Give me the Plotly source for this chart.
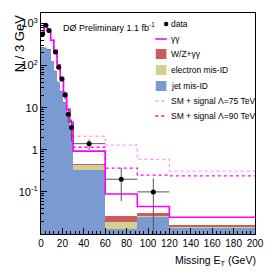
import plotly.graph_objects as go
import numpy as np

# ---- data ----
edges = [0, 3, 6, 9, 12, 15, 18, 21, 24, 27, 30, 60, 90, 120, 200]
jet_misid = [270, 275, 240, 130, 78, 43, 24, 13, 6.5, 3.3, 0.34, 0.013, 0.026, 0.014]
electron_misid = [3, 3, 2.5, 1.5, 1, 0.6, 0.4, 0.25, 0.12, 0.07, 0.10, 0.0065, 0.002, 0.001]
wz_gg = [1, 1, 0.8, 0.6, 0.4, 0.3, 0.2, 0.1, 0.05, 0.03, 0.02, 0.0075, 0.003, 0.001]
gg = [286, 621, 437, 268, 151, 61, 27.4, 8.65, 2.33, 1.1, 0.47, 0.062, 0.014, 0.009]
signal_75 = [0.3, 0.3, 0.3, 0.3, 0.3, 0.3, 0.35, 0.4, 0.45, 0.5, 1.17, 1.21, 0.545, 0.285]
signal_90 = [0.1, 0.1, 0.1, 0.1, 0.1, 0.1, 0.12, 0.13, 0.15, 0.2, 0.22, 0.28, 0.205, 0.215]

data_x = [1.5, 4.5, 7.5, 13.5, 16.5, 19.5, 22.5, 25.5, 28.5, 45, 75, 105]
data_y = [562, 915, 680, 210, 92, 48, 20, 7, 3.4, 1.4, 0.2, 0.1]
data_xerr = [1.5, 1.5, 1.5, 1.5, 1.5, 1.5, 1.5, 1.5, 1.5, 15, 15, 15]
data_err_up = [24, 30, 26, 14.5, 9.6, 6.9, 4.5, 2.6, 1.8, 0.35, 0.17, 0.11]
data_err_dn = [24, 30, 26, 14.5, 9.6, 6.9, 4.5, 2.6, 1.8, 0.4, 0.14, 0.0999]

x_ticks = [0, 20, 40, 60, 80, 100, 120, 140, 160, 180, 200]

# ---- derived ----
e = np.array(edges, float)
centers = (e[:-1] + e[1:]) / 2
widths = e[1:] - e[:-1]
sm_total = np.array(jet_misid) + np.array(electron_misid) + np.array(wz_gg) + np.array(gg)
tot75 = sm_total + np.array(signal_75)
tot90 = sm_total + np.array(signal_90)

BLUE = "#7b9ad2"
YELLOW = "#d4cf8c"
RED = "#cd5a5e"
MAG = "#ff00ff"
PINK = "#ff99ff"
FONT = "Liberation Sans, Arial, sans-serif"

fig = go.Figure()
for vals, col, name in [(jet_misid, BLUE, "jet mis-ID"), (electron_misid, YELLOW, "electron mis-ID"),
                        (wz_gg, RED, "W/Z+γγ"), (gg, "white", "γγ")]:
    fig.add_trace(go.Bar(x=centers, y=vals, width=widths, marker=dict(color=col, line=dict(width=0)),
                         name=name, showlegend=False))

def step(vals):
    return list(vals) + [vals[-1]]

fig.add_trace(go.Scatter(x=edges, y=step(tot75), mode="lines", line=dict(color=PINK, width=1.3, dash="dot", shape="hv"),
                         showlegend=False))
fig.add_trace(go.Scatter(x=edges, y=step(tot90), mode="lines", line=dict(color=MAG, width=1.3, dash="dot", shape="hv"),
                         showlegend=False))
fig.add_trace(go.Scatter(x=edges, y=step(sm_total), mode="lines", line=dict(color=MAG, width=1.6, shape="hv"),
                         showlegend=False))
fig.add_trace(go.Scatter(x=data_x, y=data_y, mode="markers", marker=dict(color="black", size=5),
                         error_y=dict(type="data", symmetric=False, array=data_err_up, arrayminus=data_err_dn,
                                      color="#555555", thickness=1, width=0),
                         error_x=dict(type="data", array=data_xerr, color="#555555", thickness=1, width=0),
                         showlegend=False))

fig.update_layout(
    width=276, height=276, autosize=False,
    margin=dict(l=41, r=14, t=13, b=42),
    barmode="stack", bargap=0,
    plot_bgcolor="white", paper_bgcolor="white",
    font=dict(family=FONT, size=10, color="black"),
)
fig.update_xaxes(range=[0, 200], tickvals=x_ticks, ticks="inside", ticklen=6, tickcolor="black",
                 showline=True, linecolor="black", linewidth=1, mirror=True, showgrid=False, zeroline=False,
                 tickfont=dict(size=10), minor=dict(ticks="inside", ticklen=3, dtick=4, tickcolor="black"))
fig.update_yaxes(type="log", range=[-2.0, 3.25], tickvals=[0.1, 1, 10, 100, 1000],
                 ticktext=["10<sup>-1</sup>", "1", "10", "10<sup>2</sup>", "10<sup>3</sup>"],
                 ticks="inside", ticklen=6, tickcolor="black",
                 showline=True, linecolor="black", linewidth=1, mirror=True, showgrid=False, zeroline=False,
                 tickfont=dict(size=11), minor=dict(ticks="inside", ticklen=3, dtick="D1", tickcolor="black"))

# titles
fig.add_annotation(text="N / 3 GeV", textangle=-90, xref="paper", yref="paper", x=(19 - 41) / 221, y=1.0,
                   xanchor="center", yanchor="top", showarrow=False, font=dict(size=13))
fig.add_annotation(text="Missing E<sub>T</sub> (GeV)", xref="paper", yref="paper", x=1.015, y=-0.122,
                   xanchor="right", yanchor="middle", showarrow=False, font=dict(size=10.5))
fig.add_annotation(text="DØ Preliminary 1.1 fb<sup>-1</sup>", xref="paper", yref="paper", x=(62 - 41) / 221,
                   y=(234 - 27) / 221, xanchor="left", yanchor="middle", showarrow=False, font=dict(size=9))

# manual legend (pixel positions converted to paper coords)
def px(xp):
    return (xp - 41) / 221

def py(yp):
    return (234 - yp) / 221

legend_items = [
    ("data", "dot", None, 24),
    ("γγ", "line", dict(color=MAG, width=1.6), 39),
    ("W/Z+γγ", "rect", RED, 54),
    ("electron mis-ID", "rect", YELLOW, 70),
    ("jet mis-ID", "rect", BLUE, 86),
    ("SM + signal Λ=75 TeV", "line", dict(color=PINK, width=1.3, dash="dot"), 101),
    ("SM + signal Λ=90 TeV", "line", dict(color=MAG, width=1.3, dash="dot"), 116),
]
for label, kind, style, yp in legend_items:
    if kind == "dot":
        fig.add_shape(type="circle", xref="paper", yref="paper", x0=px(168), x1=px(172.5), y0=py(yp + 2.25),
                      y1=py(yp - 2.25), fillcolor="black", line=dict(width=0))
    elif kind == "line":
        fig.add_shape(type="line", xref="paper", yref="paper", x0=px(159), x1=px(171), y0=py(yp), y1=py(yp),
                      line=style)
    else:
        fig.add_shape(type="rect", xref="paper", yref="paper", x0=px(159.5), x1=px(170.5), y0=py(yp + 5),
                      y1=py(yp - 5), fillcolor=style, line=dict(width=0))
    fig.add_annotation(text=label, xref="paper", yref="paper", x=px(173.5), y=py(yp), xanchor="left",
                       yanchor="middle", showarrow=False, font=dict(size=8.5))

fig.write_html("out.html", config={"displayModeBar": False},
               post_script="document.body.style.margin='0px';document.body.style.padding='0px';")
